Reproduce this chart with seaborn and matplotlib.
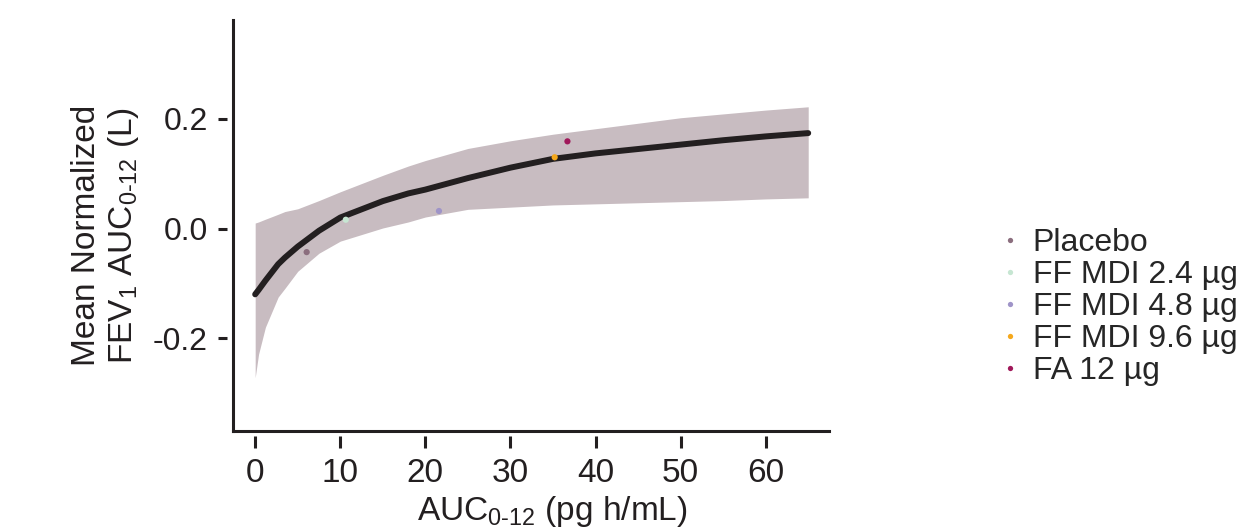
import numpy as np
import pandas as pd
import matplotlib
matplotlib.use("Agg")
import matplotlib.pyplot as plt
from matplotlib.path import Path
from matplotlib.markers import MarkerStyle
import seaborn as sns

# ---- data ----
curve_x = [0, 0.4, 1.2, 2.7, 3.5, 5, 7.5, 10, 15, 18, 20, 25, 30, 35, 40, 45, 50, 55, 60, 65]
curve_mean = [-0.120, -0.112, -0.095, -0.065, -0.053, -0.033, -0.004, 0.020, 0.050, 0.064,
              0.071, 0.092, 0.111, 0.127, 0.137, 0.145, 0.153, 0.161, 0.168, 0.174]
curve_upper = [0.010, 0.012, 0.017, 0.026, 0.031, 0.036, 0.051, 0.067, 0.097, 0.114,
               0.124, 0.146, 0.160, 0.172, 0.182, 0.192, 0.202, 0.209, 0.216, 0.222]
curve_lower = [-0.272, -0.229, -0.180, -0.125, -0.109, -0.078, -0.045, -0.023, 0.001, 0.012,
               0.021, 0.035, 0.039, 0.043, 0.045, 0.047, 0.049, 0.051, 0.054, 0.056]

groups = ["Placebo", "FF MDI 2.4 µg", "FF MDI 4.8 µg", "FF MDI 9.6 µg", "FA 12 µg"]
group_auc = [6.05, 10.65, 21.6, 35.2, 36.7]
group_fev = [-0.043, 0.016, 0.032, 0.130, 0.159]
group_colors = ["#8B6E7E", "#C6E6D2", "#9F94C8", "#F5A81C", "#A0185A"]

x_ticks = [0, 10, 20, 30, 40, 50, 60]
y_ticks = [-0.2, 0.0, 0.2]
y_tick_labels = ["-0.2", "0.0", "0.2"]

# ---- style ----
sns.set_theme(style="ticks")
plt.rcParams["font.family"] = ["Liberation Sans", "DejaVu Sans"]
plt.rcParams["mathtext.fontset"] = "custom"
plt.rcParams["mathtext.rm"] = "Liberation Sans"
plt.rcParams["mathtext.it"] = "Liberation Sans"
plt.rcParams["mathtext.bf"] = "Liberation Sans"

INK = "#231F20"
PX = 72.0 / 100.0  # points per pixel

fig = plt.figure(figsize=(12.53, 5.30), dpi=100)
ax = fig.add_axes([0.186, 0.187, 0.476, 0.775])

curve = pd.DataFrame({"x": curve_x, "mean": curve_mean, "lo": curve_lower, "hi": curve_upper})
pts = pd.DataFrame({"auc": group_auc, "fev": group_fev, "group": groups})

ax.fill_between(curve["x"], curve["lo"], curve["hi"], color="#C8BCC1", linewidth=0, zorder=1)
sns.lineplot(data=curve, x="x", y="mean", color=INK, linewidth=4.3, ax=ax, zorder=2)
sns.scatterplot(data=pts, x="auc", y="fev", hue="group", hue_order=groups,
                palette=dict(zip(groups, group_colors)), s=20, linewidth=0, ax=ax, zorder=3)

ax.set_xlim(-2.6, 67.5)
ax.set_ylim(-0.369, 0.380)
ax.set_xticks(x_ticks)
ax.set_yticks(y_ticks)
ax.set_yticklabels(y_tick_labels)

for side in ["top", "right"]:
    ax.spines[side].set_visible(False)
for side in ["left", "bottom"]:
    ax.spines[side].set_linewidth(2.2)
    ax.spines[side].set_color(INK)

ax.tick_params(axis="x", labelsize=24, width=2.2, length=17 * PX, color=INK,
               labelcolor=INK, pad=10 * PX)
ax.tick_params(axis="y", labelsize=23, width=2.2, length=15 * PX, color=INK,
               labelcolor=INK, pad=10 * PX)

# tick marks detached from the spine, as in the reference
xmark = MarkerStyle(Path([(0, -5 / 17), (0, -1)]))
ymark = MarkerStyle(Path([(-6 / 15, 0), (-1, 0)]))
for t in ax.xaxis.get_major_ticks():
    t.tick1line.set_marker(xmark)
    t.tick1line.set_markersize(2 * 17 * PX)
for t in ax.yaxis.get_major_ticks():
    t.tick1line.set_marker(ymark)
    t.tick1line.set_markersize(2 * 15 * PX)

ax.set_xlabel(r"AUC$_{0\text{-}12}$ (pg h/mL)", fontsize=24, color=INK, labelpad=4)
ax.xaxis.label.set_x(0.536)
ax.set_ylabel("Mean Normalized\n" + r"FEV$_1$ AUC$_{0\text{-}12}$ (L)", fontsize=24,
              color=INK, labelpad=9, linespacing=1.15)
ax.yaxis.label.set_y(0.475)

handles, labels = ax.get_legend_handles_labels()
ax.legend(handles=handles, labels=labels, loc="center left", bbox_to_anchor=(0.793, 0.421),
          bbox_transform=fig.transFigure, frameon=False, fontsize=23, handletextpad=0.22,
          handlelength=1.0, labelspacing=0.06, markerscale=0.85, borderaxespad=0,
          borderpad=0)

fig.savefig("out.png", dpi=100)
